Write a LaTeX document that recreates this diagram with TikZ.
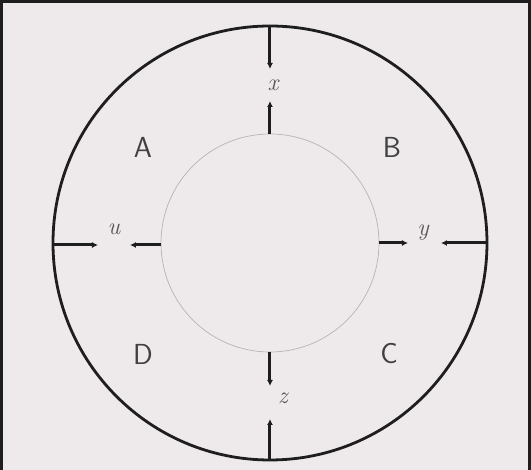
\documentclass[tikz,border=0pt]{standalone}
\usepackage{fontspec}
\usepackage{tikz}
\usetikzlibrary{arrows.meta}
\definecolor{paper}{RGB}{238,233,234}
\definecolor{ink}{RGB}{30,30,30}
\definecolor{faint}{RGB}{185,178,180}

\begin{document}
\begin{tikzpicture}[
  x=1pt, y=1pt,
  rim/.style={draw=ink, line width=2.8pt},
  core/.style={draw=faint, line width=0.7pt},
  flow/.style={-{Latex[length=6pt,width=6pt]}, draw=ink, line width=3pt},
  region/.style={font=\fontsize{29}{31}\selectfont\sffamily, text=ink!85},
  tag/.style={font=\fontsize{24}{26}\selectfont\itshape, text=ink!75}
]
  % page and frame
  \fill[paper] (-270,-227) rectangle (261,243);
  \useasboundingbox (-270,-227) rectangle (261,243);
  \draw[ink, line width=3pt] (-268.5,-240) -- (-268.5,241.5) -- (259.5,241.5) -- (259.5,-240);

  % circles
  \coordinate (c) at (0,0);
  \draw[rim] (c) circle (217);
  \draw[core] (c) circle (109);

  % segment ends
  \coordinate (otop) at (0,217);   \coordinate (atop) at (0,174);
  \coordinate (itop) at (0,109);   \coordinate (btop) at (0,142);
  \coordinate (obot) at (0,-217);  \coordinate (abot) at (0,-176);
  \coordinate (ibot) at (0,-109);  \coordinate (bbot) at (0,-143);
  \coordinate (olft) at (-217,-2); \coordinate (alft) at (-172,-2);
  \coordinate (ilft) at (-109,-2); \coordinate (blft) at (-140,-2);
  \coordinate (orgt) at (217,0);   \coordinate (argt) at (171,0);
  \coordinate (irgt) at (109,0);   \coordinate (brgt) at (138,0);

  % labels
  \node[tag] (lx) at (3,158) {x};
  \node[tag] (lz) at (13,-155) {z};
  \node[tag] (lu) at (-156,14) {u};
  \node[tag] (ly) at (153,10) {y};

  \node[region] (A) at (-127,96) {A};
  \node[region] (B) at (122,96) {B};
  \node[region] (C) at (119,-111) {C};
  \node[region] (D) at (-127,-111) {D};

  % arrows toward the labels
  \draw[flow] (otop) -- (atop);
  \draw[flow] (itop) -- (btop);
  \draw[flow] (obot) -- (abot);
  \draw[flow] (ibot) -- (bbot);
  \draw[flow] (olft) -- (alft);
  \draw[flow] (ilft) -- (blft);
  \draw[flow] (orgt) -- (argt);
  \draw[flow] (irgt) -- (brgt);
\end{tikzpicture}
\end{document}
